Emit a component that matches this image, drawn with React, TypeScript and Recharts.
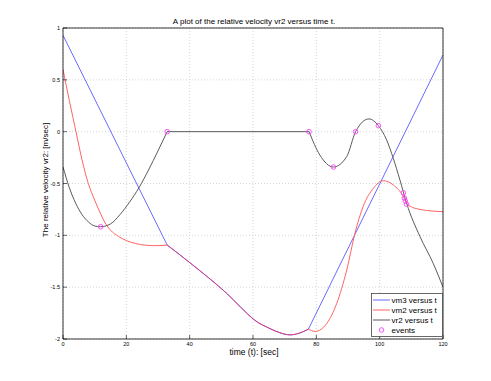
import React from 'react';
import { ComposedChart, Line, Scatter, XAxis, YAxis, CartesianGrid } from 'recharts';

// [t, value] pairs
const vm3Start: [number, number][] = [[0, 0.93], [32.9, -1.094]];
const vm3End: [number, number][] = [[77.5, -1.905], [120, 0.74]];

// vm3 and vm2 run together between the two kinks
const sharedPart: [number, number][] = [
  [32.9, -1.094], [37, -1.19], [41, -1.287], [46, -1.41], [51.7, -1.56], [56, -1.69],
  [60.6, -1.82], [65.4, -1.9], [68.5, -1.94], [71.7, -1.96], [74.5, -1.945], [77.5, -1.905],
];

const vm2Start: [number, number][] = [
  [0, 0.6], [2, 0.3], [4.1, 0], [6, -0.27], [8, -0.5], [10, -0.66], [12, -0.8], [13.3, -0.88],
  [15, -0.95], [17.5, -1.01], [20, -1.05], [23, -1.08], [26, -1.095], [29, -1.1], [32.9, -1.094],
];
const vm2End: [number, number][] = [
  [77.5, -1.905], [79.6, -1.927], [83.3, -1.85], [86.4, -1.66], [89.6, -1.335], [92.2, -0.98],
  [94.8, -0.72], [98, -0.546], [101.1, -0.473], [104.3, -0.514], [107.5, -0.627], [108.5, -0.69],
  [110, -0.725], [112, -0.745], [114.8, -0.76], [120, -0.772],
];

const vr2Start: [number, number][] = [
  [0, -0.34], [2, -0.54], [4, -0.69], [6, -0.8], [8, -0.87], [10, -0.91], [11.9, -0.917],
  [15, -0.89], [18, -0.8], [21, -0.68], [24, -0.54], [27, -0.37], [30, -0.185], [32.9, 0],
];
const vr2Flat: [number, number][] = [[32.9, 0], [77.7, 0]];
const vr2End: [number, number][] = [
  [77.7, 0], [81.1, -0.225], [85.4, -0.341], [89.6, -0.24], [92.4, 0], [96.6, 0.123],
  [99.6, 0.058], [102.2, -0.08], [104.3, -0.257], [106.4, -0.466], [108.5, -0.69],
  [112.7, -1.01], [116.9, -1.27], [120, -1.5],
];

const events: [number, number][] = [
  [11.9, -0.917], [32.9, 0], [77.7, 0], [85.4, -0.341], [92.4, 0], [99.6, 0.058],
  [107.5, -0.59], [107.8, -0.64], [108.1, -0.67], [108.5, -0.7],
];

const xTicks = [0, 20, 40, 60, 80, 100, 120];
const yTicks = [1, 0.5, 0, -0.5, -1, -1.5, -2];

const legendItems = ['vm3 versus t', 'vm2 versus t', 'vr2 versus t', 'events'];

const BLUE = '#6a6aff';
const RED = '#ff6464';
const BLACK = '#5a5a5a';
const MAGENTA = '#ff40ff';
const FONT = '"Liberation Sans", Arial, Helvetica, sans-serif';

const toPts = (arr: [number, number][]) => arr.map(([t, y]) => ({ t, y }));

const W = 491;
const H = 381;

// MATLAB style ticks point into the plot box
const BottomTick = ({ x, y, payload }: any) => (
  <g>
    <line x1={x} x2={x} y1={y} y2={y - 4} stroke="#000" strokeWidth={0.6} />
    <text x={x} y={y + 7} textAnchor="middle" fontSize={5.5} fontFamily={FONT} fill="#000">
      {payload.value}
    </text>
  </g>
);
const TopTick = ({ x, y }: any) => (
  <line x1={x} x2={x} y1={y} y2={y + 4} stroke="#000" strokeWidth={0.6} />
);
const LeftTick = ({ x, y, payload }: any) => (
  <g>
    <line x1={x} x2={x + 4} y1={y} y2={y} stroke="#000" strokeWidth={0.6} />
    <text x={x - 3} y={y + 2} textAnchor="end" fontSize={5.5} fontFamily={FONT} fill="#000">
      {payload.value}
    </text>
  </g>
);
const RightTick = ({ x, y }: any) => (
  <line x1={x} x2={x - 4} y1={y} y2={y} stroke="#000" strokeWidth={0.6} />
);

const EventMark = ({ cx, cy }: any) => (
  <circle cx={cx} cy={cy} r={2.3} fill="none" stroke={MAGENTA} strokeWidth={0.9} />
);

export default function App() {
  const lineProps = {
    dataKey: 'y',
    dot: false,
    activeDot: false,
    strokeWidth: 1,
    isAnimationActive: false,
  } as const;

  const axisLine = { stroke: '#000', strokeWidth: 0.8 };

  return (
    <div style={{ position: 'absolute', left: 0, top: 0, width: W, height: H, background: '#fff' }}>
      <ComposedChart width={W} height={H} margin={{ top: 26, right: 46, bottom: 30, left: 43 }}>
        <CartesianGrid stroke="#c4c4c4" strokeDasharray="1 2" strokeWidth={0.7} />
        <XAxis
          dataKey="t"
          type="number"
          domain={[0, 120]}
          ticks={xTicks}
          interval={0}
          height={12}
          tickSize={0}
          tickMargin={0}
          tick={<BottomTick />}
          tickLine={false}
          axisLine={axisLine}
          allowDataOverflow
        />
        <XAxis
          xAxisId="top"
          orientation="top"
          type="number"
          domain={[0, 120]}
          ticks={xTicks}
          interval={0}
          height={2}
          tickSize={0}
          tickMargin={0}
          tick={<TopTick />}
          tickLine={false}
          axisLine={axisLine}
        />
        <YAxis
          type="number"
          domain={[-2, 1]}
          ticks={yTicks}
          interval={0}
          width={20}
          tickSize={0}
          tickMargin={0}
          tick={<LeftTick />}
          tickLine={false}
          axisLine={axisLine}
          allowDataOverflow
        />
        <YAxis
          yAxisId="right"
          orientation="right"
          type="number"
          domain={[-2, 1]}
          ticks={yTicks}
          interval={0}
          width={2}
          tickSize={0}
          tickMargin={0}
          tick={<RightTick />}
          tickLine={false}
          axisLine={axisLine}
        />

        <Line {...lineProps} data={toPts(vm3Start)} type="linear" stroke={BLUE} />
        <Line {...lineProps} data={toPts(sharedPart)} type="monotone" stroke={BLUE} />
        <Line {...lineProps} data={toPts(vm3End)} type="linear" stroke={BLUE} />

        <Line {...lineProps} data={toPts(vm2Start)} type="monotone" stroke={RED} />
        <Line {...lineProps} data={toPts(sharedPart)} type="monotone" stroke="#e8306a" strokeOpacity={0.85} />
        <Line {...lineProps} data={toPts(vm2End)} type="monotone" stroke={RED} />

        <Line {...lineProps} data={toPts(vr2Start)} type="monotone" stroke={BLACK} />
        <Line {...lineProps} data={toPts(vr2Flat)} type="linear" stroke={BLACK} />
        <Line {...lineProps} data={toPts(vr2End)} type="monotone" stroke={BLACK} />

        <Scatter data={toPts(events)} dataKey="y" shape={<EventMark />} isAnimationActive={false} />
      </ComposedChart>

      <svg
        width={W}
        height={H}
        style={{ position: 'absolute', left: 0, top: 0, pointerEvents: 'none' }}
        fontFamily={FONT}
      >
        <text x={254} y={24} textAnchor="middle" fontSize={8} fill="#000">
          A plot of the relative velocity vr2 versus time t.
        </text>
        <text x={254} y={355} textAnchor="middle" fontSize={8.5} fill="#000">
          time (t): [sec]
        </text>
        <text
          x={0}
          y={0}
          transform="translate(48,180) rotate(-90)"
          textAnchor="middle"
          fontSize={8}
          fill="#000"
        >
          The relative velocity vr2: [m/sec]
        </text>

        <rect x={371.5} y={293.5} width={71} height={43} fill="#fff" stroke="#444" strokeWidth={0.8} />
        {legendItems.map((label, i) => {
          const cy = 300 + i * 10;
          const color = [BLUE, RED, BLACK][i];
          return (
            <g key={label}>
              {i < 3 ? (
                <line x1={373} x2={390} y1={cy} y2={cy} stroke={color} strokeWidth={1} />
              ) : (
                <circle cx={381.5} cy={cy} r={2.3} fill="none" stroke={MAGENTA} strokeWidth={0.9} />
              )}
              <text x={391.5} y={cy + 2.8} fontSize={8} fill="#000">
                {label}
              </text>
            </g>
          );
        })}
      </svg>
    </div>
  );
}
